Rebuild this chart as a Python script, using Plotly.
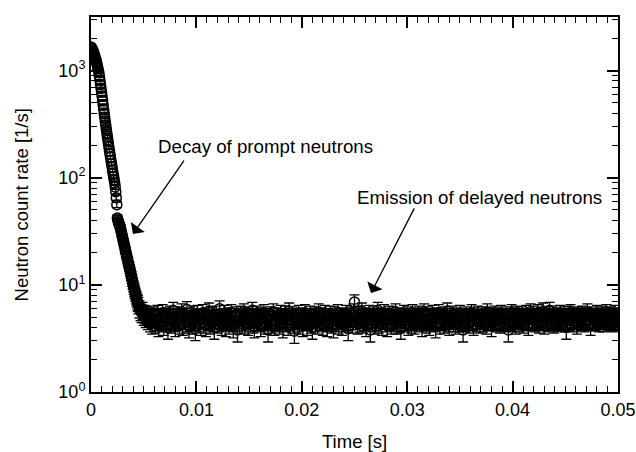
import numpy as np
import plotly.graph_objects as go

# prompt decay region, channel width 50 us, starting at t = 0
prompt_bin = 0.00005
prompt_rate = [
    1660, 1640, 1600, 1560, 1520,
    1480, 1425, 1375, 1325, 1275,
    1230, 1170, 1110, 1055, 1005,
    955, 880, 810, 745, 685,
    631, 575, 525, 478, 436,
    398, 366, 337, 310, 286,
    263, 243, 225, 208, 192,
    178, 166, 155, 144, 135,
    126, 117, 109, 102, 95,
    89, 82, 74, 65, 56,
    42.0, 40.3, 38.7, 37.4, 36.3,
    35.5, 33.7, 32.0, 30.4, 28.9,
    27.5, 26.1, 24.9, 23.7, 22.5,
    21.4, 20.3, 19.3, 18.4, 17.5,
    16.6, 15.9, 15.1, 14.5, 13.8,
    13.2, 12.5, 11.8, 11.2, 10.6,
    10.0, 9.5, 9.1, 8.7, 8.3,
    7.9, 7.6, 7.3, 7.0, 6.8,
    6.5,
]

# delayed neutron region, channel width 100 us, starting at t = 4.6 ms
delayed_start = 0.0046
delayed_bin = 0.0001
delayed_rate = [
    6.0, 5.7, 5.5, 5.8, 5.2, 5.4, 5.0, 5.3, 4.8, 5.1, 4.6, 5.0,
    4.4, 4.9, 5.2, 4.5, 4.7, 5.4, 4.2, 4.8, 5.0, 4.6, 5.5, 4.3,
    4.9, 4.7, 5.1, 4.0, 4.8, 5.3, 4.5, 4.9, 5.8, 4.6, 4.2, 5.0,
    4.7, 5.2, 4.4, 4.9, 5.6, 4.3, 4.8, 5.0, 4.5, 5.9, 4.6, 4.1,
    5.1, 4.8, 4.4, 5.3, 4.7, 3.9, 4.9, 5.4, 4.6, 5.0, 4.3, 4.8,
    5.5, 4.5, 4.9, 4.2, 5.1, 4.7, 5.7, 4.4, 4.8, 5.2, 4.6, 4.0,
    4.9, 5.3, 4.5, 4.8, 6.0, 4.6, 4.3, 5.0, 4.7, 5.4, 4.2, 4.9,
    5.1, 4.4, 4.8, 5.5, 4.6, 4.1, 5.0, 4.7, 5.2, 3.8, 4.9, 4.5,
    5.3, 4.7, 4.9, 5.6, 4.4, 4.8, 5.0, 4.3, 5.2, 4.6, 4.9, 5.8,
    4.5, 4.1, 5.0, 4.7, 5.3, 4.6, 4.9, 4.2, 5.1, 4.8, 5.5, 4.4,
    4.7, 5.0, 3.8, 4.9, 5.2, 4.5, 4.8, 5.6, 4.3, 4.7, 5.1, 4.6,
    5.0, 4.4, 5.4, 4.8, 4.1, 4.9, 5.3, 4.6, 5.0, 4.3, 5.7, 4.7,
    4.8, 5.2, 4.5, 3.7, 4.9, 5.0, 4.6, 5.4, 4.4, 4.8, 5.1, 4.2,
    4.9, 5.5, 4.7, 4.3, 5.0, 4.8, 5.3, 4.5, 4.0, 4.9, 5.2, 4.6,
    5.0, 4.4, 5.6, 4.7, 4.9, 5.1, 4.3, 4.8, 5.4, 4.6, 4.2, 5.0,
    4.7, 5.3, 4.5, 4.9, 4.1, 5.2, 4.8, 4.6, 5.5, 4.4, 5.0, 4.8,
    4.3, 5.1, 4.9, 4.6, 5.4, 4.7, 3.9, 5.0, 4.8, 5.2, 4.5, 5.6,
    6.9, 4.8, 5.0, 4.4, 5.3, 4.6, 4.9, 5.7, 4.5, 5.1, 4.7, 4.2,
    5.0, 4.8, 5.4, 3.8, 4.9, 4.6, 5.2, 4.4, 5.0, 4.7, 5.8, 4.5,
    4.9, 5.1, 4.3, 4.8, 5.5, 4.6, 5.0, 4.2, 4.9, 5.3, 4.7, 4.4,
    5.2, 4.8, 4.6, 5.6, 4.4, 4.9, 5.1, 4.5, 4.0, 5.0, 4.7, 5.4,
    4.6, 4.9, 5.2, 4.3, 4.8, 5.0, 4.5, 5.5, 4.7, 4.4, 5.1, 4.9,
    4.8, 5.3, 4.6, 5.0, 4.2, 4.9, 5.6, 4.7, 4.5, 5.2, 4.8, 4.3,
    5.0, 4.7, 5.4, 4.6, 4.9, 4.1, 5.1, 4.8, 5.5, 4.4, 5.0, 4.7,
    4.9, 4.5, 5.2, 4.8, 5.7, 4.6, 4.3, 5.0, 4.8, 5.3, 4.6, 4.9,
    4.4, 5.1, 4.8, 4.6, 5.4, 4.9, 4.7, 3.8, 5.0, 4.6, 5.2, 4.8,
    5.0, 4.5, 4.9, 5.5, 4.7, 4.3, 5.1, 4.8, 4.6, 5.3, 4.9, 4.5,
    4.8, 5.2, 4.6, 4.9, 5.0, 4.4, 5.6, 4.7, 5.1, 4.8, 4.2, 5.0,
    4.7, 5.3, 4.9, 4.6, 5.1, 4.8, 4.5, 5.4, 4.9, 4.7, 5.0, 4.6,
    5.2, 4.8, 3.8, 5.0, 4.7, 5.5, 4.6, 4.9, 5.1, 4.4, 5.3, 4.8,
    4.6, 5.0, 4.8, 5.2, 4.5, 4.9, 4.7, 5.4, 4.8, 4.3, 5.0, 5.6,
    4.9, 4.7, 5.3, 4.6, 5.0, 4.8, 5.5, 4.5, 4.9, 5.1, 4.7, 5.7,
    4.4, 5.0, 4.8, 5.2, 4.6, 5.8, 4.9, 4.7, 5.3, 4.5, 5.0, 4.8,
    5.1, 4.6, 4.9, 5.4, 4.7, 5.0, 4.8, 5.2, 4.6, 4.0, 4.9, 5.3,
    4.7, 5.5, 4.8, 5.0, 4.6, 5.1, 4.9, 4.4, 5.2, 4.8, 5.0, 4.7,
    5.3, 4.9, 4.6, 5.1, 4.8, 5.6, 4.7, 5.0, 4.3, 5.2, 4.9, 4.8,
    5.0, 4.7, 5.4, 4.9, 4.6, 5.1, 4.8, 5.3, 4.6, 5.0, 4.9, 5.5,
    4.8, 5.1, 4.7, 5.2, 4.9, 4.6, 5.0, 5.4, 4.8, 5.1, 4.7,
]

# accumulated counting time per channel [s], used for the poisson error bars
counting_time = 5.0

x_ticks = [0, 0.01, 0.02, 0.03, 0.04, 0.05]
x_ticktext = ['0', '0.01', '0.02', '0.03', '0.04', '0.05']
y_ticks = [1, 10, 100, 1000]
y_ticktext = ['10<sup>0</sup>', '10<sup>1</sup>', '10<sup>2</sup>', '10<sup>3</sup>']
x_minor = [i / 1000 for i in range(51) if i % 10]
y_minor = [m * 10 ** d for d in range(4) for m in range(2, 10) if m * 10 ** d < 3162]

font_family = 'Liberation Sans, Arial, sans-serif'

prompt_time = np.arange(len(prompt_rate)) * prompt_bin
delayed_time = delayed_start + np.arange(len(delayed_rate)) * delayed_bin
time = np.round(np.concatenate([prompt_time, delayed_time]), 6)
rate = np.array(prompt_rate + delayed_rate)
rate_err = np.sqrt(rate / counting_time)

x_range = [0, 0.05]
y_range = [0, 3.5]

fig = go.Figure()
fig.add_trace(go.Scatter(
    x=time, y=rate, mode='markers',
    marker=dict(symbol='circle-open', size=10, color='black', line=dict(width=1.5, color='black')),
    error_y=dict(type='data', array=rate_err, color='black', thickness=1.3, width=5),
    showlegend=False,
))
# invisible trace so the overlaid minor tick axes get drawn
fig.add_trace(go.Scatter(x=[0.02], y=[5], xaxis='x2', yaxis='y2', mode='markers',
                         marker=dict(opacity=0), showlegend=False, hoverinfo='skip'))

tick_font = dict(family=font_family, size=18, color='black')
title_font = dict(family=font_family, size=18.5, color='black')

fig.update_layout(
    width=636, height=452,
    margin=dict(l=91, r=18, t=17, b=60),
    plot_bgcolor='white', paper_bgcolor='white',
    font=dict(family=font_family, color='black'),
    xaxis=dict(
        range=x_range, tickvals=x_ticks, ticktext=x_ticktext, tickfont=tick_font,
        showline=True, linewidth=2, linecolor='black', mirror='ticks',
        ticks='inside', ticklen=11, tickwidth=1.5, tickcolor='black',
        showgrid=False, zeroline=False, automargin=False,
    ),
    yaxis=dict(
        type='log', range=y_range, tickvals=y_ticks, ticktext=y_ticktext, tickfont=tick_font,
        showline=True, linewidth=2, linecolor='black', mirror='ticks',
        ticks='inside', ticklen=11, tickwidth=1.5, tickcolor='black',
        showgrid=False, zeroline=False, automargin=False,
    ),
    xaxis2=dict(
        overlaying='x', anchor='y', range=x_range, tickvals=x_minor, showticklabels=False,
        ticks='inside', ticklen=6, tickwidth=1, tickcolor='black', mirror='ticks',
        showline=False, showgrid=False, zeroline=False,
    ),
    yaxis2=dict(
        overlaying='y', anchor='x', type='log', range=y_range, tickvals=y_minor, showticklabels=False,
        ticks='inside', ticklen=6, tickwidth=1, tickcolor='black', mirror='ticks',
        showline=False, showgrid=False, zeroline=False,
    ),
)

# axis titles
fig.add_annotation(x=0.5, y=-0.132, xref='paper', yref='paper', text='Time [s]', showarrow=False,
                   xanchor='center', yanchor='middle', font=title_font)
fig.add_annotation(x=-0.131, y=0.5, xref='paper', yref='paper', text='Neutron count rate [1/s]',
                   showarrow=False, textangle=-90, xanchor='center', yanchor='middle', font=title_font)

ann_font = dict(family=font_family, size=18.7, color='black')
# labels
fig.add_annotation(x=0.00617, y=np.log10(197), xref='x', yref='y', text='Decay of prompt neutrons',
                   showarrow=False, xanchor='left', yanchor='middle', font=ann_font)
fig.add_annotation(x=0.02505, y=np.log10(64.8), xref='x', yref='y', text='Emission of delayed neutrons',
                   showarrow=False, xanchor='left', yanchor='middle', font=ann_font)
# arrows
fig.add_annotation(x=0.00398, y=np.log10(29.8), ax=0.00892, ay=np.log10(149), xref='x', yref='y',
                   axref='x', ayref='y', text='', showarrow=True, arrowhead=1, arrowsize=2.2,
                   arrowwidth=1.3, arrowcolor='black', standoff=0)
fig.add_annotation(x=0.02657, y=np.log10(8.4), ax=0.03074, ay=np.log10(53.4), xref='x', yref='y',
                   axref='x', ayref='y', text='', showarrow=True, arrowhead=1, arrowsize=2.2,
                   arrowwidth=1.3, arrowcolor='black', standoff=0)

# the page body has a default 8px margin, drop it so the figure sits at the window corner
fig.write_html('out.html', config={'displayModeBar': False},
               post_script="document.body.style.margin='0';")
